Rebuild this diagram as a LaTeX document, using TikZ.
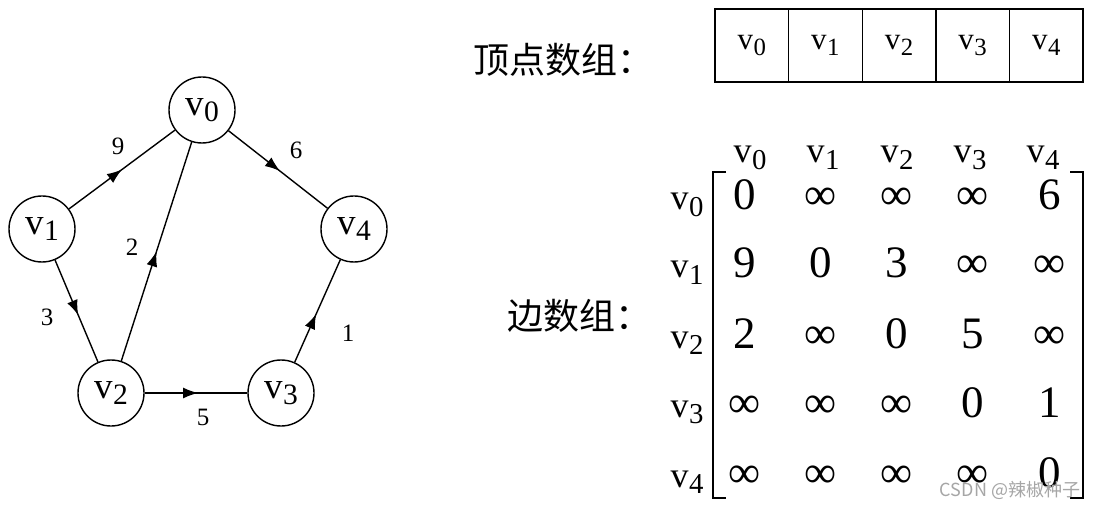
\documentclass[tikz,border=0pt]{standalone}
\usepackage{fontspec}
\usepackage{graphicx}
\setmainfont{Liberation Serif}
\newfontfamily\cjk{Noto Sans CJK SC}
\usetikzlibrary{arrows.meta,decorations.markings}
\newcommand\vsub[1]{v\kern0.5pt\raisebox{-0.18em}{\scalebox{0.8}{#1}}}
\tikzset{
  vert/.style={circle, draw, line width=1.4pt, minimum size=66pt, inner sep=0pt, font=\fontsize{37}{37}\selectfont},
  edge/.style={line width=1.4pt},
  midarrow/.style={postaction={decorate}, decoration={markings, mark=at position #1 with {\arrow{Latex[length=15pt,width=11pt]}}}},
  elabel/.style={font=\fontsize{25}{25}\selectfont, inner sep=0pt},
  cell/.style={draw, line width=1.4pt, minimum width=73.6pt, minimum height=73pt, inner sep=0pt, font=\fontsize{31}{31}\selectfont},
  ent/.style={anchor=base, font=\fontsize{45}{45}\selectfont, inner sep=0pt},
  hdr/.style={anchor=base, font=\fontsize{36}{36}\selectfont, inner sep=0pt},
  cnlabel/.style={anchor=west, font=\cjk\fontsize{36}{36}\selectfont, inner sep=0pt},
  bracket/.style={line width=2.5pt},
}
\begin{document}
\begin{tikzpicture}[x=1pt,y=-1pt]
\useasboundingbox[fill=white] (0,0) rectangle (1094,510);
% graph
\node[vert] (v0) at (202,110) {\vsub{0}};
\node[vert] (v1) at (42,229) {\vsub{1}};
\node[vert] (v2) at (111,393) {\vsub{2}};
\node[vert] (v3) at (281,393) {\vsub{3}};
\node[vert] (v4) at (354,229) {\vsub{4}};
\draw[edge, midarrow=0.5] (v1) -- (v0);
\draw[edge, midarrow=0.52] (v0) -- (v4);
\draw[edge, midarrow=0.54] (v1) -- (v2);
\draw[edge, midarrow=0.5] (v2) -- (v0);
\draw[edge, midarrow=0.52] (v2) -- (v3);
\draw[edge, midarrow=0.47] (v3) -- (v4);
\node[elabel] (l9) at (118,146) {9};
\node[elabel] (l6) at (296,150) {6};
\node[elabel] (l2) at (132,247) {2};
\node[elabel] (l3) at (47,317) {3};
\node[elabel] (l5) at (203,417) {5};
\node[elabel] (l1) at (348,333) {1};
% vertex array
\node[cnlabel] (t1) at (473,60) {顶点数组：};
\foreach \i in {0,...,4} {
  \node[cell] (a\i) at ({715+73.6*(\i+0.5)},45.5) {\vsub{\i}};
}
% edge matrix
\node[cnlabel] (t2) at (507,316) {边数组：};
\foreach \i/\x in {0/750,1/823,2/897,3/970,4/1043} {
  \node[hdr] (h\i) at (\x,163) {\vsub{\i}};
}
\foreach \i/\y in {0/210,1/278,2/348,3/417,4/487} {
  \node[hdr] (r\i) at (687,\y) {\vsub{\i}};
}
\foreach \r/\y/\a/\b/\c/\d/\e in {
  0/210/0/∞/∞/∞/6,
  1/278/9/0/3/∞/∞,
  2/348/2/∞/0/5/∞,
  3/417/∞/∞/∞/0/1,
  4/487/∞/∞/∞/∞/0} {
  \node[ent] (m\r0) at (745,\y) {\a};
  \node[ent] (m\r1) at (821,\y) {\b};
  \node[ent] (m\r2) at (897,\y) {\c};
  \node[ent] (m\r3) at (973,\y) {\d};
  \node[ent] (m\r4) at (1050,\y) {\e};
}
\coordinate (bl1) at (726,172);
\coordinate (bl2) at (713,172);
\coordinate (bl3) at (713,498);
\coordinate (bl4) at (726,498);
\coordinate (br1) at (1070,172);
\coordinate (br2) at (1083,172);
\coordinate (br3) at (1083,498);
\coordinate (br4) at (1070,498);
\draw[bracket] (bl1) -- (bl2) -- (bl3) -- (bl4);
\draw[bracket] (br1) -- (br2) -- (br3) -- (br4);
% watermark
\node[font=\cjk\fontsize{18}{18}\selectfont, text=gray!70, inner sep=0pt] (wm) at (1010,490) {CSDN @辣椒种子};
\end{tikzpicture}
\end{document}
